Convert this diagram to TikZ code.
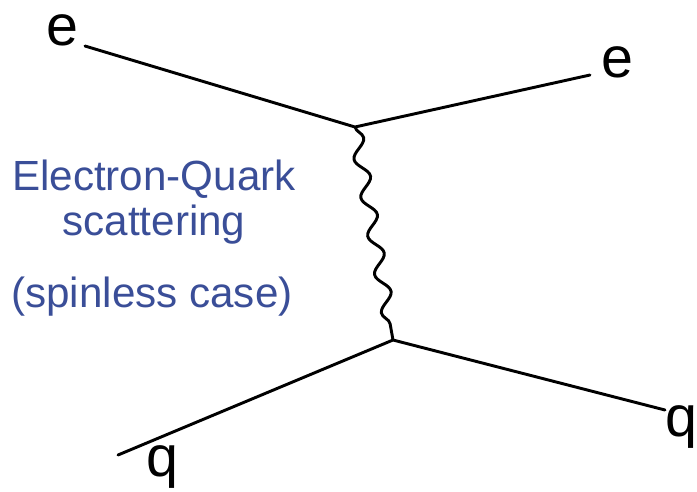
\documentclass[tikz,border=0pt]{standalone}
\usepackage{fontspec}
\setmainfont{Liberation Sans}
\usepackage{xcolor}
\usepackage{tikz}
\usetikzlibrary{
	decorations.pathmorphing,
	positioning
}
\definecolor{labelblue}{RGB}{58,78,152}

\begin{document}
\begin{tikzpicture}[
				x=0.03cm, y=-0.03cm,
				fermion/.style={
					draw, black, line width=2.5pt, line cap=round
				},
				photon/.style={
					draw, black, line width=2.5pt,
					decorate, decoration={snake, segment length=1.17cm, amplitude=0.2cm}
				},
				particle/.style={
					font=\fontsize{49}{56}\selectfont, inner sep=0pt
				},
				caption/.style={
					align=center, text=labelblue, inner sep=0pt,
					font=\fontsize{36}{38}\selectfont
				}
				]
				\useasboundingbox (0,0) rectangle (697,491);
				
				% vertices
				\coordinate (vTop) at (355,127);
				\coordinate (vBot) at (393,340);
				
				% external legs
				\coordinate (eIn)  at (85,46);
				\coordinate (eOut) at (590,75);
				\coordinate (qIn)  at (118,455);
				\coordinate (qOut) at (665,410);
				
				% labels
				\node[particle] (eInLabel)  at (62,30)   {e};
				\node[particle] (eOutLabel) at (617,62)  {e};
				\node[particle] (qInLabel)  at (162,467) {q};
				\node[particle] (qOutLabel) at (681,427) {q};
				
				% text
				\node[caption] (title) at (154,202) {Electron-Quark\\scattering};
				\node[caption] (spin)  at (152,297) {(spinless case)};
				
				% lines
				\draw[fermion] (eIn) -- (vTop) -- (eOut);
				\draw[fermion] (qIn) -- (vBot) -- (qOut);
				\draw[photon] (vTop) -- (vBot);
			\end{tikzpicture}
\end{document}
